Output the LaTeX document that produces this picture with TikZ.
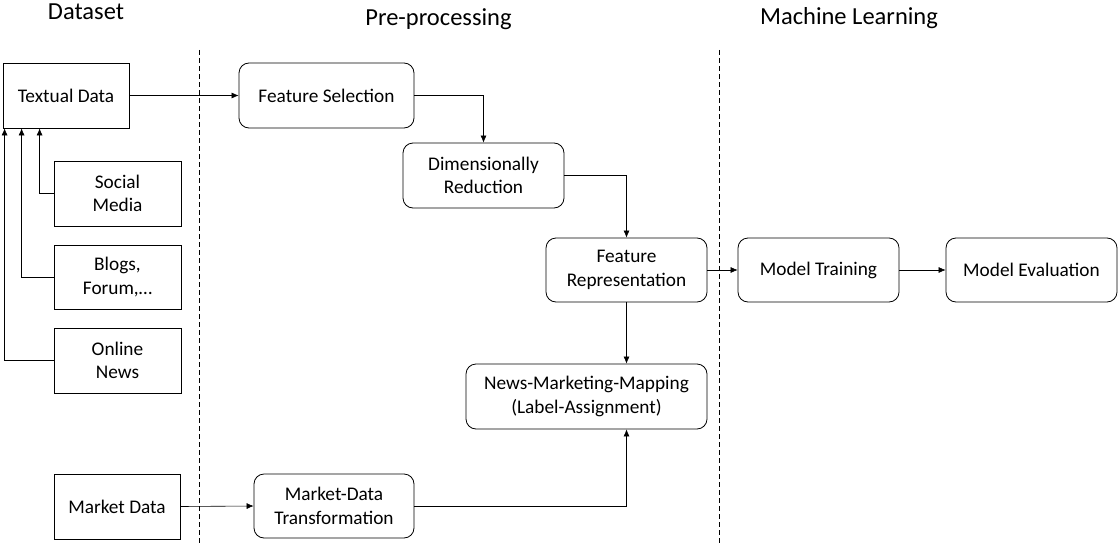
\documentclass[tikz,border=0pt]{standalone}
\usepackage{fontspec}
\setmainfont{Carlito}
\usetikzlibrary{arrows.meta,calc}
\begin{document}
\begin{tikzpicture}[x=1pt,y=-1pt,
  sqbox/.style={draw, rectangle, line width=0.8pt, align=center, inner sep=0pt,
    font=\fontsize{19.3}{23.5}\selectfont},
  rdbox/.style={sqbox, rounded corners=10pt},
  head/.style={font=\fontsize{24.5}{28}\selectfont, inner sep=0pt},
  conn/.style={line width=0.6pt, -{Latex[length=7pt,width=6pt]}},
  plain/.style={line width=0.6pt},
  divider/.style={line width=1pt, dash pattern=on 5pt off 3pt}]
\useasboundingbox (0,0) rectangle (1118,543);

% headers
\node[head] (hds) at (86,12) {Dataset};
\node[head] (hpp) at (438.5,19) {Pre-processing};
\node[head] (hml) at (849,18) {Machine Learning};

% dividers
\coordinate (d1t) at (199,50); \coordinate (d1b) at (199,543);
\coordinate (d2t) at (719,50); \coordinate (d2b) at (719,543);
\draw[divider] (d1t) -- (d1b);
\draw[divider] (d2t) -- (d2b);

% dataset boxes
\node[sqbox, minimum width=126pt, minimum height=65pt] (td) at (66,95.5) {Textual Data};
\node[sqbox, minimum width=127pt, minimum height=65pt] (sm) at (117.5,193.5) {Social\\Media};
\node[sqbox, minimum width=127pt, minimum height=64pt] (bl) at (117.5,277) {Blogs,\\Forum,…};
\node[sqbox, minimum width=127pt, minimum height=65pt] (on) at (117.5,360.5) {Online\\News};
\node[sqbox, minimum width=126pt, minimum height=65pt] (md) at (117,506.5) {Market Data};

% pre-processing
\node[rdbox, minimum width=175pt, minimum height=65pt] (fs) at (326.5,95.5) {Feature Selection};
\node[rdbox, minimum width=161pt, minimum height=65pt] (dr) at (483.5,175.5) {Dimensionally\\Reduction};
\node[rdbox, minimum width=161pt, minimum height=64pt] (fr) at (626.5,270) {Feature\\Representation};
\node[rdbox, minimum width=241pt, minimum height=65pt] (nm) at (586.5,396.5) {News-Marketing-Mapping\\(Label-Assignment)};
\node[rdbox, minimum width=160pt, minimum height=64pt] (mt) at (334,506) {Market-Data\\Transformation};

% machine learning
\node[rdbox, minimum width=161pt, minimum height=64pt] (mtr) at (818.5,270) {Model Training};
\node[rdbox, minimum width=171pt, minimum height=64pt] (me) at (1031.5,270) {Model Evaluation};

% connectors
\coordinate (tsm) at ([xshift=37pt]td.south west);
\coordinate (tbl) at ([xshift=19pt]td.south west);
\coordinate (ton) at ([xshift=2pt]td.south west);
\draw[conn] (sm.west) -| (tsm);
\draw[conn] (bl.west) -| (tbl);
\draw[conn] (on.west) -| (ton);

\draw[conn] (td.east) -- (fs.west);
\draw[conn] (fs.east) -| (dr.north);
\draw[conn] (dr.east) -| (fr.north);
\draw[conn] (fr.east) -- (mtr.west);
\draw[conn] (mtr.east) -- (me.west);
\coordinate (nmt) at (fr.south |- nm.north);
\coordinate (nmb) at (fr.south |- nm.south);
\draw[conn] (fr.south) -- (nmt);
\draw[conn] (md.east) -- (mt.west);
\draw[conn] (mt.east) -| (nmb);
\end{tikzpicture}
\end{document}
